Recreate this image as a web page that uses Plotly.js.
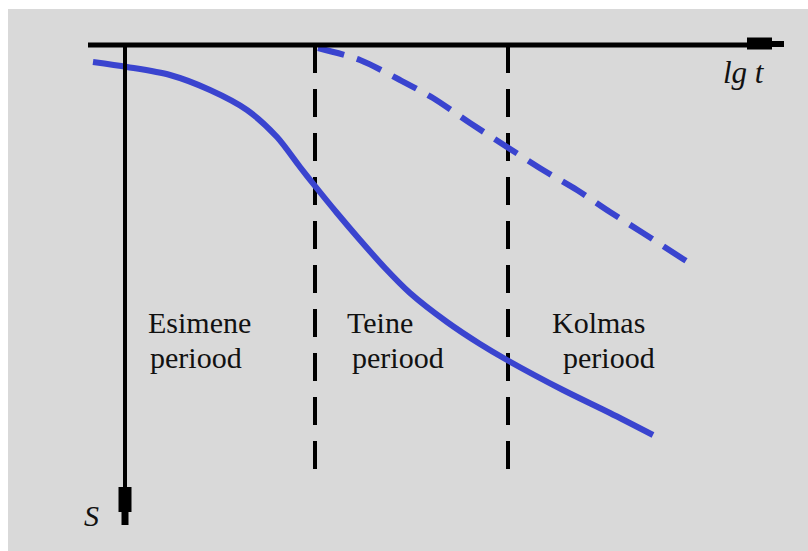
<!DOCTYPE html>
<html>
<head>
<meta charset="utf-8">
<script src="https://cdn.plot.ly/plotly-3.0.1.min.js"></script>
<style>html,body{margin:0;padding:0;background:#fff;}#chart{width:808px;height:551px;}</style>
</head>
<body>
<div id="chart"></div>
<script>
// lg t (horizontal, to the right) and settlement S (vertical, downward)
var solidLgT = [-0.32, 0.02, 0.45, 0.85, 1.22, 1.52, 1.75, 1.90, 2.12, 2.35, 2.60, 2.85, 3.22, 3.55, 3.82, 4.38, 4.85, 5.28];
var solidS   = [ 0.17, 0.22, 0.30, 0.45, 0.65, 0.92, 1.22, 1.41, 1.68, 1.95, 2.23, 2.48, 2.77, 2.99, 3.15, 3.45, 3.68, 3.90];

var dashLgT = [1.93, 2.35, 2.75, 3.08, 3.45, 3.82, 4.18, 4.52, 4.85, 5.18, 5.55, 5.68];
var dashS   = [0.03, 0.15, 0.35, 0.53, 0.78, 1.02, 1.25, 1.45, 1.67, 1.88, 2.12, 2.20];

var boundaryLgT = [1.90, 3.83];
var boundaryDepth = 4.25;

var periodFirstWord = ["Esimene", "Teine", "Kolmas"];
var periodSecondWord = ["periood", "periood", "periood"];
var firstWordLgT = [0.21, 2.20, 4.25];
var secondWordLgT = [0.23, 2.25, 4.36];
var firstWordS = 2.77;
var secondWordS = 3.12;

var axisLabelX = "lg t";
var axisLabelY = "S";

var blue = "#3a44cf";
var traces = [];
boundaryLgT.forEach(function (b) {
  traces.push({x: [b, b], y: [0, boundaryDepth], mode: "lines", type: "scatter",
    line: {color: "#000", width: 4, dash: "28px,16px"}, hoverinfo: "skip"});
});
traces.push({x: dashLgT, y: dashS, mode: "lines", type: "scatter",
  line: {color: blue, width: 6, dash: "27px,13px", shape: "spline", smoothing: 0.8}, hoverinfo: "skip"});
traces.push({x: solidLgT, y: solidS, mode: "lines", type: "scatter",
  line: {color: blue, width: 6, shape: "spline", smoothing: 0.8}, hoverinfo: "skip"});

var serif = "Liberation Serif, Times New Roman, serif";
var annotations = [];
periodFirstWord.forEach(function (t, i) {
  annotations.push({x: firstWordLgT[i], y: firstWordS, xref: "x", yref: "y", text: t, showarrow: false,
    xanchor: "left", yanchor: "middle", font: {family: serif, size: 30, color: "#111"}});
  annotations.push({x: secondWordLgT[i], y: secondWordS, xref: "x", yref: "y", text: periodSecondWord[i], showarrow: false,
    xanchor: "left", yanchor: "middle", font: {family: serif, size: 30, color: "#111"}});
});
annotations.push({x: 6.19, y: 0.275, xref: "x", yref: "y", text: "<i>" + axisLabelX + "</i>", showarrow: false,
  xanchor: "center", yanchor: "middle", font: {family: serif, size: 31, color: "#111"}});
annotations.push({x: -0.335, y: 4.70, xref: "x", yref: "y", text: "<i>" + axisLabelY + "</i>", showarrow: false,
  xanchor: "center", yanchor: "middle", font: {family: serif, size: 30, color: "#111"}});

var shapes = [
  // horizontal lg t axis
  {type: "line", xref: "x", yref: "y", x0: -0.37, x1: 6.30, y0: 0, y1: 0, line: {color: "#000", width: 5}},
  {type: "rect", xref: "x", yref: "y", x0: 6.22, x1: 6.47, y0: -0.075, y1: 0.045, fillcolor: "#000", line: {width: 0}},
  {type: "rect", xref: "x", yref: "y", x0: 6.46, x1: 6.59, y0: -0.04, y1: 0.02, fillcolor: "#000", line: {width: 0}},
  // vertical S axis
  {type: "line", xref: "x", yref: "y", x0: 0, x1: 0, y0: 0, y1: 4.45, line: {color: "#000", width: 4}},
  {type: "rect", xref: "x", yref: "y", x0: -0.065, x1: 0.065, y0: 4.42, y1: 4.67, fillcolor: "#000", line: {width: 0}},
  {type: "rect", xref: "x", yref: "y", x0: -0.035, x1: 0.035, y0: 4.66, y1: 4.80, fillcolor: "#000", line: {width: 0}}
];

var layout = {
  width: 808, height: 551,
  margin: {l: 8, r: 0, t: 9, b: 0, pad: 0},
  paper_bgcolor: "#ffffff",
  plot_bgcolor: "#d9d9d9",
  showlegend: false,
  xaxis: {range: [-1.17, 6.83], visible: false, fixedrange: true},
  yaxis: {range: [5.06, -0.36], visible: false, fixedrange: true},
  shapes: shapes,
  annotations: annotations
};
Plotly.newPlot("chart", traces, layout, {staticPlot: true, displayModeBar: false});
</script>
</body>
</html>
